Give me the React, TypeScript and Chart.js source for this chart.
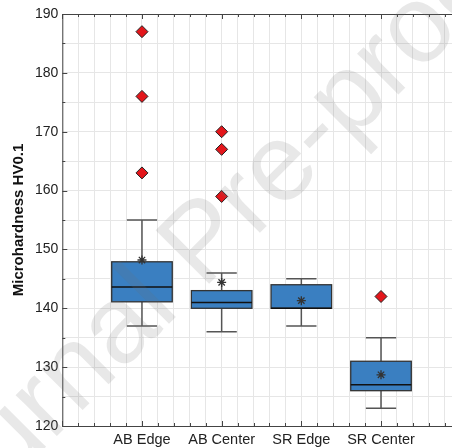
import React, { useEffect, useRef } from "react";
import { Chart, registerables } from "chart.js";

Chart.register(...registerables);

const categories = ["AB Edge", "AB Center", "SR Edge", "SR Center"];
const whiskerLow = [137, 136, 137, 123];
const q1 = [141.1, 140, 140, 126];
const median = [143.6, 141, 140, 127];
const q3 = [147.9, 143, 144, 131];
const whiskerHigh = [155, 146, 145, 135];
const means = [148.2, 144.4, 141.3, 128.7];
const outliers = [[187, 176, 163], [170, 167, 159], [], [142]];
const yTicks = [120, 125, 130, 135, 140, 145, 150, 155, 160, 165, 170, 175, 180, 185, 190];

const FONT = '"Liberation Sans", Arial, Helvetica, sans-serif';
const BOX_W = 0.76;
const CAP_W = 0.38;

const boxPlugin = {
  id: "boxes",
  beforeDatasetsDraw(chart: any) {
    const { ctx, scales } = chart;
    const xs = scales.x, ys = scales.y;
    ctx.save();
    categories.forEach((_, i) => {
      const xc = i + 1;
      const xl = xs.getPixelForValue(xc - BOX_W / 2);
      const xr = xs.getPixelForValue(xc + BOX_W / 2);
      const cx = xs.getPixelForValue(xc);
      const cl = xs.getPixelForValue(xc - CAP_W / 2);
      const cr = xs.getPixelForValue(xc + CAP_W / 2);
      const yq1 = ys.getPixelForValue(q1[i]);
      const yq3 = ys.getPixelForValue(q3[i]);
      const ym = ys.getPixelForValue(median[i]);
      const ylo = ys.getPixelForValue(whiskerLow[i]);
      const yhi = ys.getPixelForValue(whiskerHigh[i]);
      // whiskers
      ctx.strokeStyle = "#555";
      ctx.lineWidth = 1.5;
      ctx.beginPath();
      ctx.moveTo(cx, yq3); ctx.lineTo(cx, yhi);
      ctx.moveTo(cx, yq1); ctx.lineTo(cx, ylo);
      ctx.moveTo(cl, yhi); ctx.lineTo(cr, yhi);
      ctx.moveTo(cl, ylo); ctx.lineTo(cr, ylo);
      ctx.stroke();
      // box
      ctx.fillStyle = "rgb(58,127,193)";
      ctx.fillRect(xl, yq3, xr - xl, yq1 - yq3);
      ctx.strokeStyle = "#333";
      ctx.lineWidth = 1.3;
      ctx.strokeRect(xl, yq3, xr - xl, yq1 - yq3);
      // median
      ctx.strokeStyle = "#111";
      ctx.lineWidth = 1.5;
      ctx.beginPath();
      ctx.moveTo(xl, ym); ctx.lineTo(xr, ym);
      ctx.stroke();
    });
    ctx.restore();
  },
  afterDraw(chart: any) {
    const { ctx, chartArea, scales } = chart;
    const xs = scales.x, ys = scales.y;
    const { left, right, top, bottom } = chartArea;
    ctx.save();
    ctx.strokeStyle = "#444";
    ctx.lineWidth = 1;
    ctx.beginPath();
    ctx.moveTo(left + 0.5, top + 0.5); ctx.lineTo(right, top + 0.5);
    ctx.moveTo(left + 0.5, top); ctx.lineTo(left + 0.5, bottom + 0.5);
    ctx.moveTo(left, bottom + 0.5); ctx.lineTo(right, bottom + 0.5);
    xs.ticks.forEach((t: any) => {
      const px = Math.round(xs.getPixelForValue(t.value)) + 0.5;
      const major = Math.abs(t.value - Math.round(t.value)) < 1e-6;
      const len = major ? 5 : 3;
      ctx.moveTo(px, top); ctx.lineTo(px, top + len);
      ctx.moveTo(px, bottom); ctx.lineTo(px, bottom - len);
    });
    ys.ticks.forEach((t: any) => {
      const py = Math.round(ys.getPixelForValue(t.value)) + 0.5;
      const len = t.value % 10 === 0 ? 5 : 3;
      ctx.moveTo(left, py); ctx.lineTo(left + len, py);
    });
    ctx.stroke();
    // watermark
    ctx.translate(205, 245);
    ctx.rotate(-Math.PI / 4);
    ctx.font = `110px ${FONT}`;
    ctx.fillStyle = "rgba(110,110,110,0.16)";
    ctx.textAlign = "center";
    ctx.textBaseline = "middle";
    ctx.fillText("Journal Pre-proof", 0, 0);
    ctx.restore();
  },
};

export default function App() {
  const ref = useRef<HTMLCanvasElement | null>(null);
  useEffect(() => {
    if (!ref.current) return;
    Chart.defaults.font.family = FONT;
    const outlierPts: { x: number; y: number }[] = [];
    outliers.forEach((arr, i) => arr.forEach((v) => outlierPts.push({ x: i + 1, y: v })));
    const meanPts = means.map((v, i) => ({ x: i + 1, y: v }));
    const chart = new Chart(ref.current, {
      type: "scatter",
      data: {
        datasets: [
          {
            label: "Mean",
            data: meanPts,
            pointStyle: "star",
            pointRadius: 4.5,
            borderColor: "#333",
            backgroundColor: "#333",
            pointBorderWidth: 1.3,
          },
          {
            label: "Outliers",
            data: outlierPts,
            pointStyle: "rectRot",
            pointRadius: 6,
            backgroundColor: "#e3161b",
            borderColor: "#222",
            pointBorderWidth: 1,
          },
        ],
      },
      options: {
        responsive: false,
        animation: false,
        events: [],
        layout: { autoPadding: false, padding: { top: 14, left: 0, right: 0, bottom: 0 } },
        plugins: { legend: { display: false }, tooltip: { enabled: false } },
        scales: {
          x: {
            type: "linear",
            min: 0,
            max: 4.891,
            afterBuildTicks: (s: any) => {
              const t = [];
              for (let i = 0; i <= 24; i++) t.push({ value: Math.round(i * 2) / 10 });
              s.ticks = t;
            },
            afterFit: (s: any) => { s.height = 22; },
            ticks: {
              autoSkip: false,
              maxRotation: 0,
              minRotation: 0,
              padding: 5,
              color: "#222",
              font: { size: 14.5 },
              callback: (v: any) => {
                const n = Number(v);
                if (Math.abs(n - Math.round(n)) < 1e-6 && n >= 1 && n <= 4) return categories[Math.round(n) - 1];
                return "";
              },
            },
            grid: { color: "#e6e6e6", drawTicks: false, lineWidth: 1 },
            border: { display: false },
          },
          y: {
            min: 120,
            max: 190,
            afterBuildTicks: (s: any) => { s.ticks = yTicks.map((v) => ({ value: v })); },
            afterFit: (s: any) => { s.width = 62.3; },
            ticks: {
              padding: 4,
              color: "#222",
              font: { size: 14 },
              callback: (v: any) => (Number(v) % 10 === 0 ? String(v) : ""),
            },
            grid: { color: "#e6e6e6", drawTicks: false, lineWidth: 1 },
            border: { display: false },
            title: {
              display: true,
              text: "Microhardness HV0.1",
              color: "#111",
              font: { size: 15, weight: "bold" },
              padding: { top: 10, bottom: 0 },
            },
          },
        },
      },
      plugins: [boxPlugin],
    } as any);
    return () => chart.destroy();
  }, []);
  return (
    <div style={{ position: "fixed", left: 0, top: 0, width: 452, height: 448, background: "#fff" }}>
      <canvas ref={ref} width={452} height={448} style={{ display: "block" }} />
    </div>
  );
}
